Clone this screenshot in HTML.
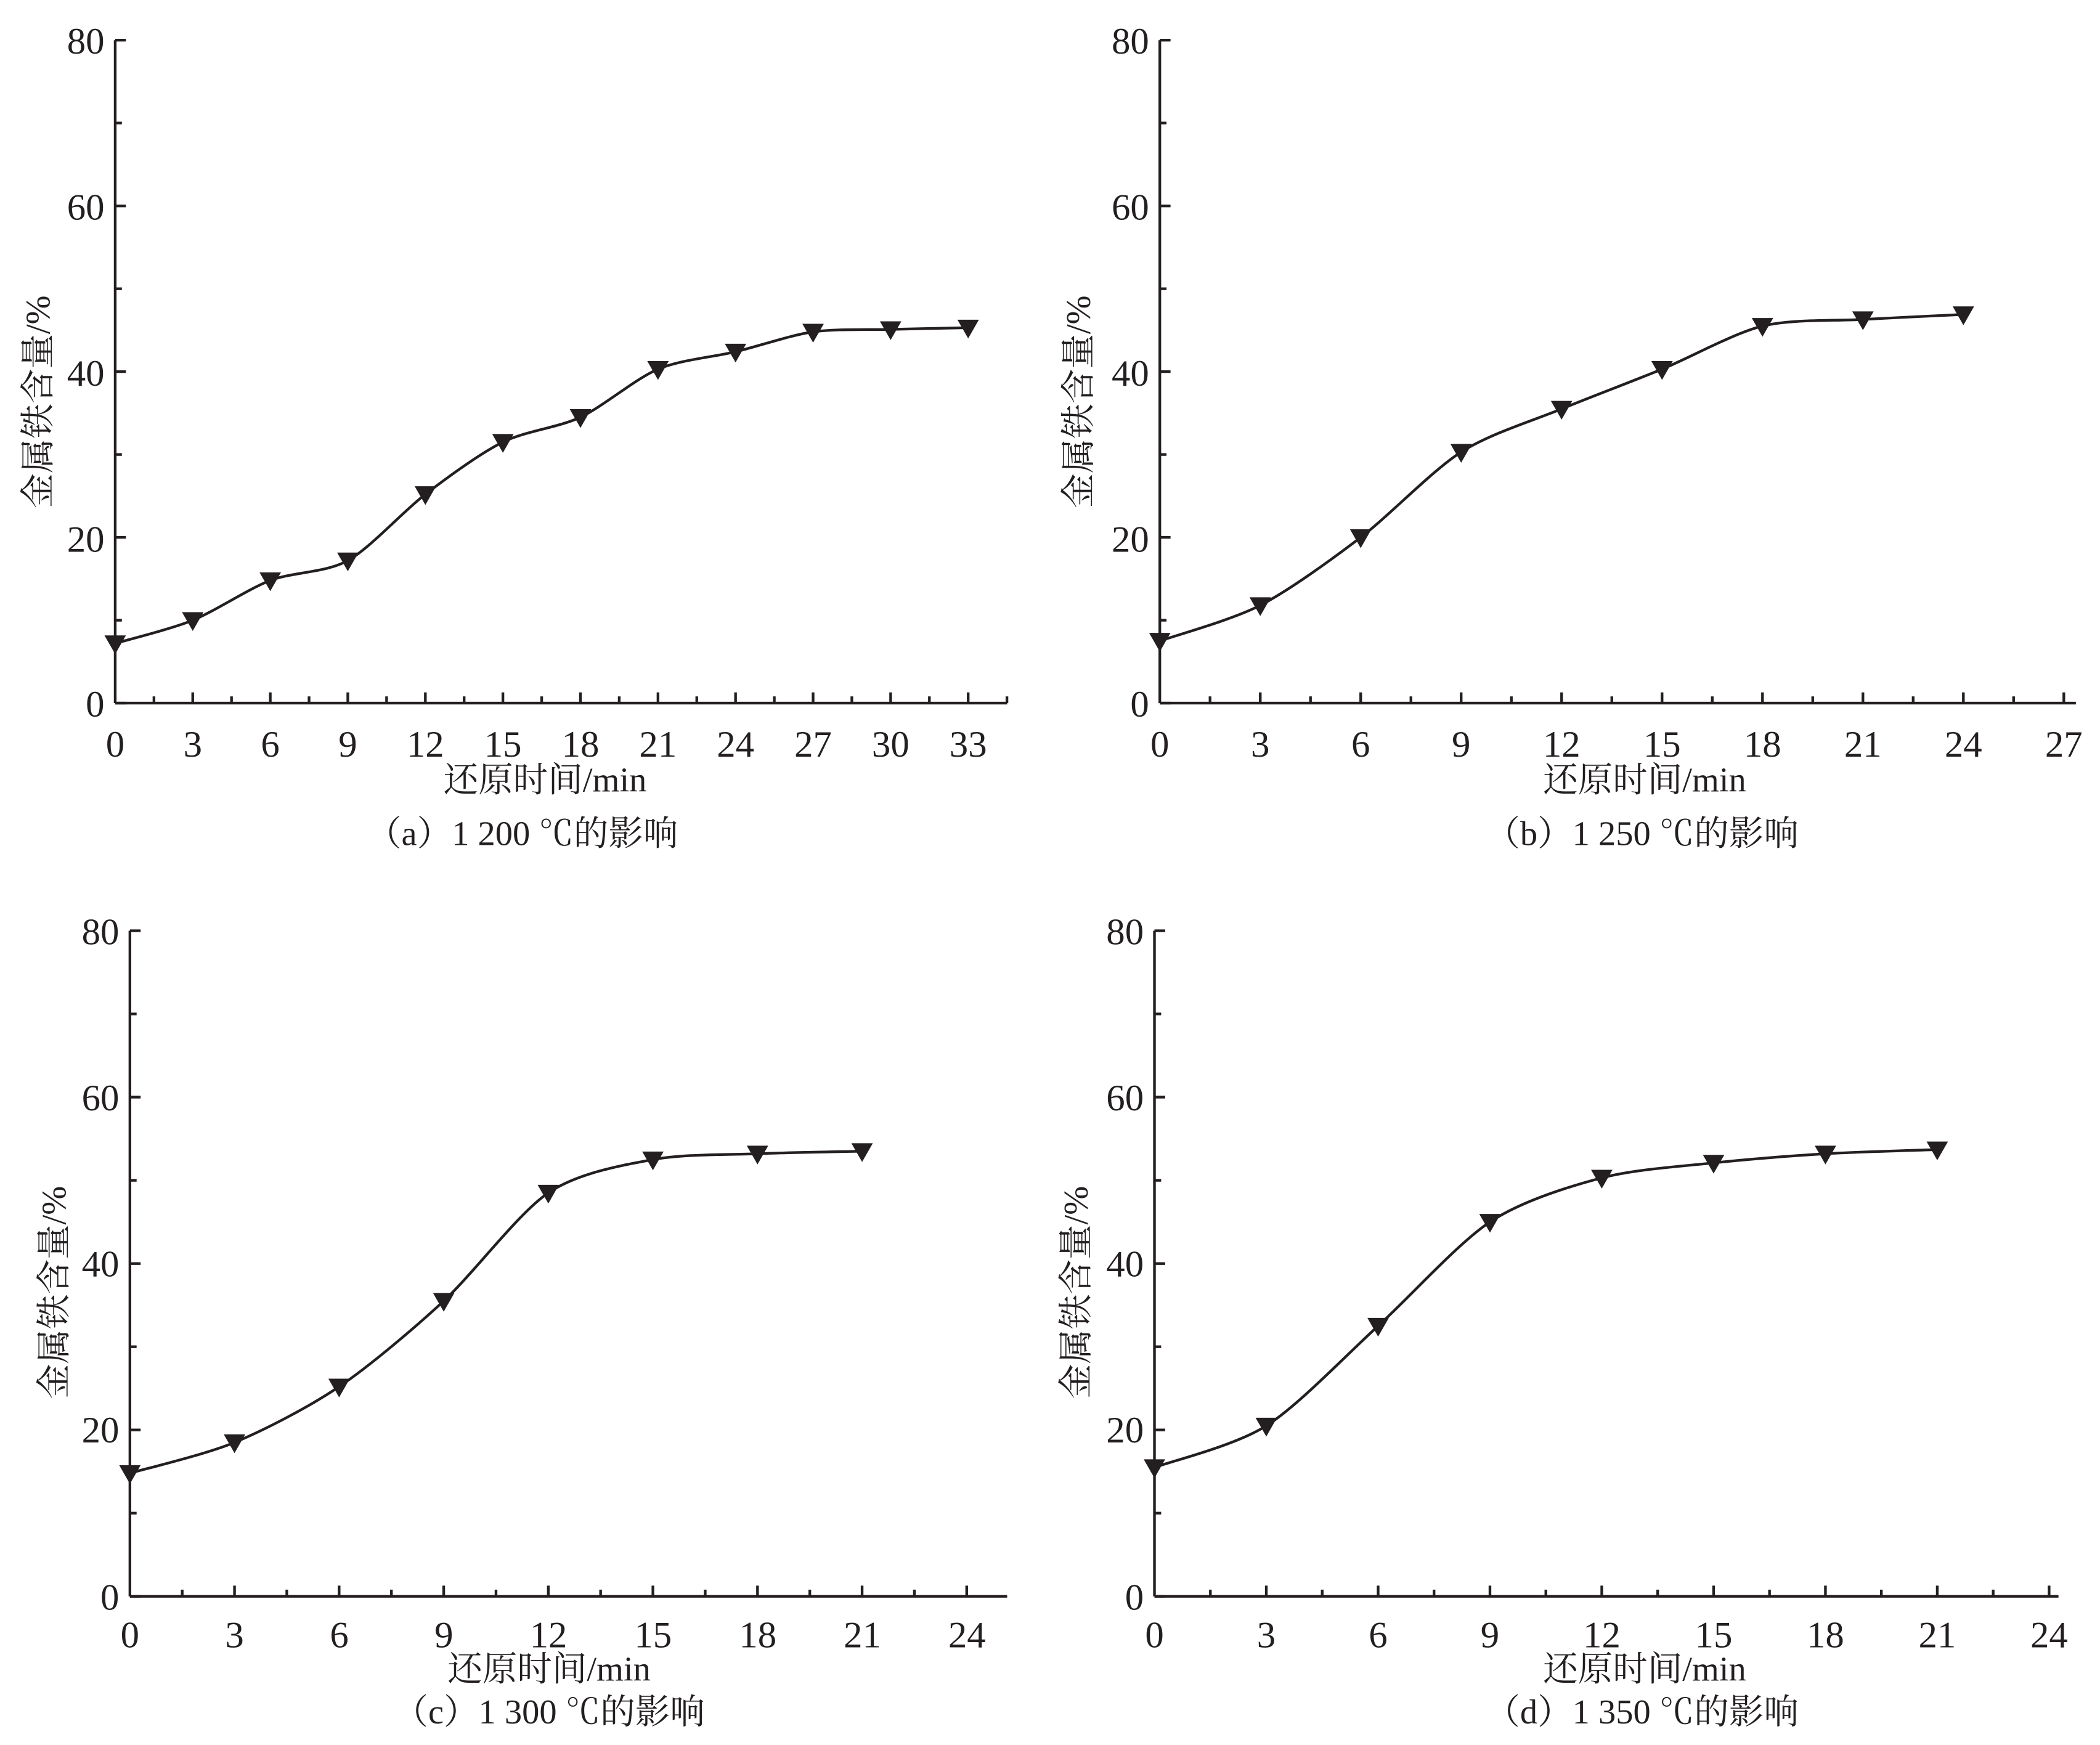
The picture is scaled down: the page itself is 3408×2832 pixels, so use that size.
<!DOCTYPE html>
<html><head><meta charset="utf-8"><style>
html,body{margin:0;padding:0;background:#fff;}
svg{display:block;}
text{font-family:"Liberation Serif","Noto Serif CJK SC",serif;fill:#231f20;}
</style></head><body>
<svg id="s" width="3408" height="2832" viewBox="0 0 1568 1303" xmlns="http://www.w3.org/2000/svg">
<g font-size="28" text-anchor="middle">
<text x="86" y="565">0</text><text x="143.9" y="565">3</text><text x="201.8" y="565">6</text><text x="259.7" y="565">9</text><text x="317.6" y="565">12</text><text x="375.5" y="565">15</text><text x="433.4" y="565">18</text><text x="491.3" y="565">21</text><text x="549.2" y="565">24</text><text x="607.1" y="565">27</text><text x="665" y="565">30</text><text x="722.9" y="565">33</text>
<text x="866" y="565">0</text><text x="941" y="565">3</text><text x="1016" y="565">6</text><text x="1091" y="565">9</text><text x="1166" y="565">12</text><text x="1241" y="565">15</text><text x="1316" y="565">18</text><text x="1391" y="565">21</text><text x="1466" y="565">24</text><text x="1541" y="565">27</text>
<text x="97" y="1230">0</text><text x="175.1" y="1230">3</text><text x="253.3" y="1230">6</text><text x="331.4" y="1230">9</text><text x="409.5" y="1230">12</text><text x="487.6" y="1230">15</text><text x="565.8" y="1230">18</text><text x="643.9" y="1230">21</text><text x="722" y="1230">24</text>
<text x="862" y="1230">0</text><text x="945.5" y="1230">3</text><text x="1029" y="1230">6</text><text x="1112.5" y="1230">9</text><text x="1196" y="1230">12</text><text x="1279.5" y="1230">15</text><text x="1363" y="1230">18</text><text x="1446.5" y="1230">21</text><text x="1530" y="1230">24</text>
</g>
<g font-size="28" text-anchor="end">
<text x="78" y="40">80</text><text x="78" y="164">60</text><text x="78" y="288">40</text><text x="78" y="412">20</text><text x="78" y="535">0</text>
<text x="858" y="40">80</text><text x="858" y="164">60</text><text x="858" y="288">40</text><text x="858" y="412">20</text><text x="858" y="535">0</text>
<text x="89" y="705">80</text><text x="89" y="829">60</text><text x="89" y="953">40</text><text x="89" y="1077">20</text><text x="89" y="1202">0</text>
<text x="854" y="705">80</text><text x="854" y="829">60</text><text x="854" y="953">40</text><text x="854" y="1077">20</text><text x="854" y="1202">0</text>
</g>
<g font-size="26" text-anchor="middle">
<text x="407" y="591">还原时间/min</text>
<text x="1228" y="591">还原时间/min</text>
<text x="410" y="1255">还原时间/min</text>
<text x="1228" y="1255">还原时间/min</text>
<text x="390" y="631">（a）1 200 ℃的影响</text>
<text x="1226" y="631">（b）1 250 ℃的影响</text>
<text x="410" y="1287">（c）1 300 ℃的影响</text>
<text x="1226" y="1287">（d）1 350 ℃的影响</text>
<text transform="translate(37,300) rotate(-90)">金属铁含量/%</text>
<text transform="translate(814,300) rotate(-90)">金属铁含量/%</text>
<text transform="translate(49,965) rotate(-90)">金属铁含量/%</text>
<text transform="translate(812,965) rotate(-90)">金属铁含量/%</text>
</g>
<g id="g" stroke="#231f20" fill="none"></g>
</svg>
<script>
var g=document.getElementById('g'),NS='http://www.w3.org/2000/svg';
function el(t,a){var e=document.createElementNS(NS,t);for(var k in a)e.setAttribute(k,a[k]);g.appendChild(e);return e;}
function panel(x0,xend,step3,nmaj,ytop,y0,data){
 var yu=(y0-ytop)/80;
 el('line',{x1:x0,y1:ytop,x2:x0,y2:y0,'stroke-width':2});
 el('line',{x1:x0,y1:y0,x2:xend,y2:y0,'stroke-width':2});
 for(var v=0;v<=80;v+=10){var y=y0-v*yu;el('line',{x1:x0,y1:y,x2:x0+(v%20?5:8),y2:y,'stroke-width':2});}
 for(var i=1;i<=nmaj*2;i++){var x=x0+i*step3/2;if(x>xend)break;el('line',{x1:x,y1:y0,x2:x,y2:y0-(i%2?5:8),'stroke-width':2});}
 var P=data.map(function(d,i){return [x0+i*step3,y0-d*yu];});
 var s='M'+P[0][0]+','+P[0][1];
 for(var i=0;i<P.length-1;i++){var p0=P[i-1]||P[i],p1=P[i],p2=P[i+1],p3=P[i+2]||P[i+1];
  s+=' C'+(p1[0]+(p2[0]-p0[0])/7)+','+(p1[1]+(p2[1]-p0[1])/7)+' '+(p2[0]-(p3[0]-p1[0])/7)+','+(p2[1]-(p3[1]-p1[1])/7)+' '+p2[0]+','+p2[1];}
 el('path',{d:s,'stroke-width':2});
 P.forEach(function(p){el('path',{d:'M'+(p[0]-8)+','+(p[1]-6)+' L'+(p[0]+8)+','+(p[1]-6)+' L'+p[0]+','+(p[1]+8)+'Z',fill:'#231f20',stroke:'none'});});
}
panel(86,752,57.9,12,30,525,[7.2,10,14.8,17.2,25.2,31.5,34.5,40.3,42.4,44.8,45.1,45.3]);
panel(866,1550,75,10,30,525,[7.5,11.8,20,30.3,35.5,40.3,45.5,46.3,46.9]);
panel(97,752,78.1,9,695,1192,[14.8,18.5,25.2,35.5,48.5,52.5,53.2,53.5]);
panel(862,1537,83.5,9,695,1192,[15.5,20.5,32.5,45,50.3,52.1,53.2,53.7]);
</script>
</body></html>
